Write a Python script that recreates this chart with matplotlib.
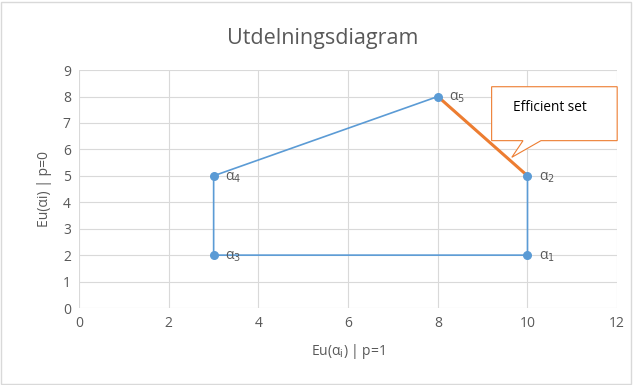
import matplotlib.pyplot as plt
from matplotlib.patches import Polygon, Rectangle

# outline of the diagram: a1 -> a2 -> a5 -> a4 -> a3 -> a1
path_x = [10, 10, 8, 3, 3, 10]
path_y = [2, 5, 8, 5, 2, 2]

point_x = [10, 10, 3, 3, 8]
point_y = [2, 5, 2, 5, 8]
point_labels = ["α$_1$", "α$_2$", "α$_3$", "α$_4$", "α$_5$"]

efficient_x = [8, 10]
efficient_y = [8, 5]

blue = "#5B9BD5"
orange = "#ED7D31"
grey = "#595959"

plt.rcParams["font.family"] = ["Open Sans", "DejaVu Sans"]
plt.rcParams["mathtext.fontset"] = "dejavusans"

fig = plt.figure(figsize=(6.33, 3.85), dpi=100)
ax = fig.add_axes([0.125, 0.2, 0.85, 0.618])

ax.plot(path_x, path_y, color=blue, lw=1.2, zorder=2)
ax.plot(efficient_x, efficient_y, color=orange, lw=2.2, zorder=3)
ax.scatter(point_x, point_y, s=30, color=blue, zorder=4)
for x, y, lab in zip(point_x, point_y, point_labels):
    ax.annotate(lab, (x, y), xytext=(8, -1), textcoords="offset points",
                va="center", ha="left", fontsize=10, color=grey)

ax.set_xlim(0, 12)
ax.set_ylim(0, 9)
ax.set_xticks(range(0, 13, 2))
ax.set_yticks(range(0, 10))
ax.grid(True, color="#D9D9D9", lw=0.8)
ax.set_axisbelow(True)
for s in ax.spines.values():
    s.set_visible(False)
ax.tick_params(length=0, colors=grey, labelsize=10, pad=6)

fig.suptitle("Utdelningsdiagram", fontsize=15.5, color=grey, x=0.51, y=0.9,
             va="center")
ax.set_xlabel("Eu(α$_\\mathrm{i}$) | p=1", fontsize=10, color=grey, labelpad=8)
ax.set_ylabel("Eu(αi) | p=0", fontsize=10, color=grey, labelpad=8)

# callout box "Efficient set"
callout = Polygon([(9.2, 8.37), (12.0, 8.37), (12.0, 6.33), (10.3, 6.33),
                   (9.65, 5.7), (9.9, 6.33), (9.2, 6.33)],
                  closed=True, facecolor="white", edgecolor=orange, lw=0.8,
                  zorder=5, clip_on=False)
ax.add_patch(callout)
ax.text(9.68, 7.6, "Efficient set", fontsize=9.8, color="black", va="center",
        ha="left", zorder=6)

# chart frame
fig.patches.append(Rectangle((0.002, 0.003), 0.995, 0.993, transform=fig.transFigure,
                             fill=False, edgecolor="#D9D9D9", lw=1))

fig.savefig("out.png", dpi=100)
